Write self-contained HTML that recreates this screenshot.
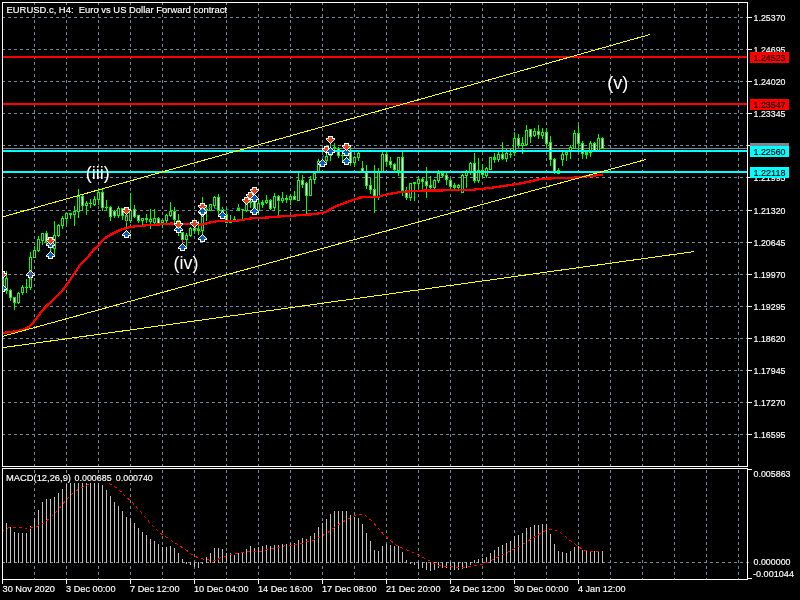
<!DOCTYPE html>
<html lang="en"><head><meta charset="utf-8"><title>EURUSD.c, H4</title>
<style>html,body{margin:0;padding:0;background:#000;overflow:hidden}svg{display:block;will-change:transform}text{font-family:"Liberation Sans",sans-serif;font-size:9.6px;fill:#fff;stroke:#fff;stroke-width:.16px}.w{font-size:18px;stroke-width:0}.k{fill:#000;stroke:#000}</style></head><body>
<svg width="800" height="600" viewBox="0 0 800 600">
<rect width="800" height="600" fill="#000"/>
<g stroke="#778899" stroke-width="1" stroke-dasharray="3 3" shape-rendering="crispEdges" fill="none">
<path d="M2 17.5H747M2 49.5H747M2 81.5H747M2 113.5H747M2 145.5H747M2 177.5H747M2 210.5H747M2 242.5H747M2 274.5H747M2 306.5H747M2 338.5H747M2 370.5H747M2 402.5H747M2 434.5H747M34.5 2V466M66.5 2V466M98.5 2V466M130.5 2V466M162.5 2V466M194.5 2V466M226.5 2V466M258.5 2V466M290.5 2V466M322.5 2V466M354.5 2V466M386.5 2V466M418.5 2V466M450.5 2V466M482.5 2V466M514.5 2V466M546.5 2V466M578.5 2V466M610.5 2V466M642.5 2V466M674.5 2V466M706.5 2V466M738.5 2V466"/>
<path d="M34.5 470V579M66.5 470V579M98.5 470V579M130.5 470V579M162.5 470V579M194.5 470V579M226.5 470V579M258.5 470V579M290.5 470V579M322.5 470V579M354.5 470V579M386.5 470V579M418.5 470V579M450.5 470V579M482.5 470V579M514.5 470V579M546.5 470V579M578.5 470V579M610.5 470V579M642.5 470V579M674.5 470V579M706.5 470V579M738.5 470V579M2 562.5H752"/>
</g>
<rect x="2" y="148" width="745" height="1" fill="#778899"/>
<g shape-rendering="crispEdges">
<path fill="#00ff00" d="M2 272h1V294h-1zM1 278h3V292h-3zM6 271h1V294h-1zM5 278h3V291h-3zM10 289h1V301h-1zM9 290h3V298h-3zM14 297h1V310h-1zM13 297h3V303h-3zM18 292h1V304h-1zM17 293h3V303h-3zM22 285h1V295h-1zM21 287h3V293h-3zM26 279h1V293h-1zM25 287h3v1h-3zM30 252h1V290h-1zM29 257h3V288h-3zM34 246h1V258h-1zM33 250h3V258h-3zM38 236h1V252h-1zM37 239h3V251h-3zM42 233h1V245h-1zM41 233h3V241h-3zM46 231h1V244h-1zM45 233h3V242h-3zM50 238h1V254h-1zM49 240h3V244h-3zM54 221h1V255h-1zM53 235h3V249h-3zM58 224h1V237h-1zM57 225h3V236h-3zM62 216h1V229h-1zM61 218h3V226h-3zM66 213h1V225h-1zM65 213h3V219h-3zM70 213h1V219h-1zM69 213h3V215h-3zM74 206h1V226h-1zM73 211h3V215h-3zM78 189h1V218h-1zM77 196h3V212h-3zM82 195h1V211h-1zM81 196h3V206h-3zM86 201h1V215h-1zM85 203h3V206h-3zM90 199h1V208h-1zM89 203h3v1h-3zM94 196h1V206h-1zM93 199h3V205h-3zM98 188h1V205h-1zM97 192h3V200h-3zM102 189h1V211h-1zM101 192h3V208h-3zM106 200h1V211h-1zM105 207h3v1h-3zM110 206h1V221h-1zM109 207h3V217h-3zM114 210h1V218h-1zM113 211h3V216h-3zM118 206h1V218h-1zM117 208h3V216h-3zM122 208h1V220h-1zM121 208h3V216h-3zM126 212h1V228h-1zM125 215h3V221h-3zM130 193h1V223h-1zM129 210h3V221h-3zM134 205h1V218h-1zM133 209h3V217h-3zM138 215h1V223h-1zM137 215h3V221h-3zM142 218h1V225h-1zM141 218h3V221h-3zM146 214h1V223h-1zM145 218h3V220h-3zM150 209h1V229h-1zM149 219h3V222h-3zM154 209h1V225h-1zM153 218h3V223h-3zM158 217h1V225h-1zM157 218h3V224h-3zM162 220h1V228h-1zM161 220h3V223h-3zM166 214h1V223h-1zM165 215h3V221h-3zM170 202h1V217h-1zM169 211h3V216h-3zM174 207h1V223h-1zM173 211h3V220h-3zM178 214h1V236h-1zM177 220h3V232h-3zM182 232h1V245h-1zM181 232h3V240h-3zM186 233h1V248h-1zM185 235h3V240h-3zM190 227h1V237h-1zM189 228h3V236h-3zM194 226h1V234h-1zM193 228h3V231h-3zM198 221h1V235h-1zM197 229h3V231h-3zM202 197h1V235h-1zM201 216h3V231h-3zM206 207h1V221h-1zM205 209h3v1h-3zM210 204h1V211h-1zM209 204h3V211h-3zM214 196h1V208h-1zM213 197h3V206h-3zM218 194h1V215h-1zM217 197h3V211h-3zM222 207h1V215h-1zM221 209h3V213h-3zM226 208h1V223h-1zM225 214h3V223h-3zM230 215h1V223h-1zM229 220h3V223h-3zM234 216h1V221h-1zM233 219h3V221h-3zM238 204h1V211h-1zM237 208h3V211h-3zM242 209h1V219h-1zM241 209h3v1h-3zM246 201h1V212h-1zM245 204h3V211h-3zM250 200h1V208h-1zM249 201h3V203h-3zM254 200h1V209h-1zM253 201h3V209h-3zM258 200h1V215h-1zM257 203h3V211h-3zM262 200h1V208h-1zM261 202h3V205h-3zM266 195h1V204h-1zM265 200h3V203h-3zM270 199h1V210h-1zM269 200h3V209h-3zM274 193h1V211h-1zM273 196h3V208h-3zM278 195h1V216h-1zM277 196h3V201h-3zM282 192h1V203h-1zM281 198h3V201h-3zM286 195h1V203h-1zM285 198h3V200h-3zM290 194h1V205h-1zM289 196h3V200h-3zM294 191h1V200h-1zM293 196h3V200h-3zM298 173h1V201h-1zM297 180h3V201h-3zM302 175h1V188h-1zM301 180h3V185h-3zM306 182h1V215h-1zM305 183h3V196h-3zM310 176h1V196h-1zM309 179h3V196h-3zM314 173h1V184h-1zM313 173h3V180h-3zM318 159h1V172h-1zM317 161h3V172h-3zM322 159h1V167h-1zM321 160h3V166h-3zM326 154h1V163h-1zM325 156h3V161h-3zM330 144h1V161h-1zM329 154h3V156h-3zM334 143h1V151h-1zM333 147h3v1h-3zM338 147h1V158h-1zM337 148h3V156h-3zM342 154h1V161h-1zM341 155h3v1h-3zM346 150h1V156h-1zM345 152h3V156h-3zM350 147h1V166h-1zM349 151h3V163h-3zM354 156h1V167h-1zM353 157h3V163h-3zM358 152h1V161h-1zM357 153h3V158h-3zM362 161h1V173h-1zM361 168h3V172h-3zM366 165h1V189h-1zM365 172h3V186h-3zM370 178h1V194h-1zM369 185h3V190h-3zM374 165h1V213h-1zM373 189h3V196h-3zM378 168h1V200h-1zM377 172h3V197h-3zM382 152h1V172h-1zM381 154h3V172h-3zM386 152h1V167h-1zM385 154h3V162h-3zM390 157h1V168h-1zM389 161h3V165h-3zM394 163h1V171h-1zM393 164h3V170h-3zM398 157h1V176h-1zM397 157h3V171h-3zM402 152h1V196h-1zM401 157h3V191h-3zM406 187h1V200h-1zM405 190h3V198h-3zM410 183h1V201h-1zM409 183h3V198h-3zM414 182h1V201h-1zM413 182h3V184h-3zM418 177h1V189h-1zM417 179h3V184h-3zM422 177h1V191h-1zM421 179h3V182h-3zM426 167h1V198h-1zM425 181h3V186h-3zM430 176h1V191h-1zM429 185h3V188h-3zM434 179h1V191h-1zM433 180h3V188h-3zM438 170h1V183h-1zM437 173h3V181h-3zM442 172h1V178h-1zM441 173h3V176h-3zM446 173h1V185h-1zM445 175h3V180h-3zM450 178h1V190h-1zM449 180h3V187h-3zM454 183h1V190h-1zM453 185h3V188h-3zM458 184h1V189h-1zM457 185h3V188h-3zM462 174h1V193h-1zM461 175h3V193h-3zM466 170h1V188h-1zM465 172h3V176h-3zM470 162h1V175h-1zM469 163h3V173h-3zM474 153h1V183h-1zM473 163h3V181h-3zM478 158h1V183h-1zM477 170h3V181h-3zM482 164h1V178h-1zM481 170h3V175h-3zM486 167h1V178h-1zM485 168h3V176h-3zM490 157h1V170h-1zM489 157h3V170h-3zM494 153h1V163h-1zM493 157h3V160h-3zM498 152h1V162h-1zM497 154h3V160h-3zM502 142h1V160h-1zM501 154h3V159h-3zM506 149h1V162h-1zM505 153h3V159h-3zM510 149h1V158h-1zM509 154h3v1h-3zM514 132h1V156h-1zM513 138h3V153h-3zM518 134h1V148h-1zM517 138h3V146h-3zM522 137h1V154h-1zM521 143h3V146h-3zM526 125h1V146h-1zM525 130h3V145h-3zM530 129h1V143h-1zM529 129h3V137h-3zM534 128h1V137h-1zM533 131h3V136h-3zM538 125h1V139h-1zM537 131h3V135h-3zM542 128h1V139h-1zM541 132h3V136h-3zM546 128h1V148h-1zM545 132h3V144h-3zM550 136h1V166h-1zM549 142h3V160h-3zM554 158h1V174h-1zM553 159h3V172h-3zM558 168h1V174h-1zM557 170h3V174h-3zM562 152h1V166h-1zM561 154h3V160h-3zM566 152h1V161h-1zM565 152h3V155h-3zM570 145h1V159h-1zM569 147h3V151h-3zM574 130h1V149h-1zM573 133h3V149h-3zM578 125h1V151h-1zM577 133h3V144h-3zM582 141h1V159h-1zM581 143h3V154h-3zM586 152h1V159h-1zM585 152h3V155h-3zM590 141h1V157h-1zM589 143h3V153h-3zM594 142h1V151h-1zM593 143h3V151h-3zM598 134h1V151h-1zM597 138h3V151h-3zM602 137h1V149h-1zM601 138h3V149h-3z"/>
<path fill="#000" d="M2 279h1V291h-1zM6 279h1V290h-1zM18 294h1V302h-1zM22 288h1V292h-1zM30 258h1V287h-1zM34 251h1V257h-1zM38 240h1V250h-1zM42 234h1V240h-1zM54 236h1V248h-1zM58 226h1V235h-1zM62 219h1V225h-1zM66 214h1V218h-1zM74 212h1V214h-1zM78 197h1V211h-1zM86 204h1V205h-1zM94 200h1V204h-1zM98 193h1V199h-1zM118 209h1V215h-1zM126 216h1V220h-1zM130 211h1V220h-1zM142 219h1V220h-1zM150 220h1V221h-1zM154 219h1V222h-1zM162 221h1V222h-1zM166 216h1V220h-1zM170 212h1V215h-1zM186 236h1V239h-1zM190 229h1V235h-1zM202 217h1V230h-1zM210 205h1V210h-1zM214 198h1V205h-1zM246 205h1V210h-1zM258 204h1V210h-1zM266 201h1V202h-1zM274 197h1V207h-1zM282 199h1V200h-1zM290 197h1V199h-1zM298 181h1V200h-1zM310 180h1V195h-1zM314 174h1V179h-1zM318 162h1V171h-1zM322 161h1V165h-1zM326 157h1V160h-1zM346 153h1V155h-1zM354 158h1V162h-1zM358 154h1V157h-1zM378 173h1V196h-1zM382 155h1V171h-1zM398 158h1V170h-1zM410 184h1V197h-1zM418 180h1V183h-1zM434 181h1V187h-1zM438 174h1V180h-1zM458 186h1V187h-1zM462 176h1V192h-1zM466 173h1V175h-1zM470 164h1V172h-1zM478 171h1V180h-1zM486 169h1V175h-1zM490 158h1V169h-1zM498 155h1V159h-1zM506 154h1V158h-1zM514 139h1V152h-1zM522 144h1V145h-1zM526 131h1V144h-1zM534 132h1V135h-1zM542 133h1V135h-1zM558 171h1V173h-1zM562 155h1V159h-1zM566 153h1V154h-1zM570 148h1V150h-1zM574 134h1V148h-1zM590 144h1V152h-1zM598 139h1V150h-1z"/>
<path fill="#fff" d="M10 291h1V297h-1zM14 298h1V302h-1zM46 234h1V241h-1zM50 241h1V243h-1zM82 197h1V205h-1zM102 193h1V207h-1zM110 208h1V216h-1zM114 212h1V215h-1zM122 209h1V215h-1zM134 210h1V216h-1zM138 216h1V220h-1zM158 219h1V223h-1zM174 212h1V219h-1zM178 221h1V231h-1zM182 233h1V239h-1zM194 229h1V230h-1zM218 198h1V210h-1zM222 210h1V212h-1zM226 215h1V222h-1zM254 202h1V208h-1zM270 201h1V208h-1zM278 197h1V200h-1zM294 197h1V199h-1zM302 181h1V184h-1zM306 184h1V195h-1zM338 149h1V155h-1zM350 152h1V162h-1zM362 169h1V171h-1zM366 173h1V185h-1zM370 186h1V189h-1zM374 190h1V195h-1zM386 155h1V161h-1zM390 162h1V164h-1zM394 165h1V169h-1zM402 158h1V190h-1zM406 191h1V197h-1zM422 180h1V181h-1zM426 182h1V185h-1zM430 186h1V187h-1zM442 174h1V175h-1zM446 176h1V179h-1zM450 181h1V186h-1zM474 164h1V180h-1zM482 171h1V174h-1zM502 155h1V158h-1zM518 139h1V145h-1zM530 130h1V136h-1zM538 132h1V134h-1zM546 133h1V143h-1zM550 143h1V159h-1zM554 160h1V171h-1zM578 134h1V143h-1zM582 144h1V153h-1zM594 144h1V150h-1zM602 139h1V148h-1z"/>
</g>
<polyline points="2,333 10,332 18,331 24,329.5 28,327.5 32,324 36,319 40,313.5 44,308.5 48,304.5 52,301 56,297 60,293 64,288.5 68,283 72,277 76,271 80,265 84,261 88,257 93,250.5 98.75,245 102.5,240.5 106,237.5 110,235 115,232.5 120,230 125,228.5 130,227 136,226.2 142,225.7 150,225 158,224.5 166,224 172,223.5 177,224 182,224 190,224 202,224.5 210,222.5 218,221 226,221 234,221 242,220 250,218.5 258,218 268,217.5 278,216.5 290,216 300,215 310,214.5 318,213.5 326,212 330,209.5 334,207 342,204 350,201 356,199 360,197.5 368,197 378,197 384,195 392,193.5 400,192 408,191.5 416,191 424,190.5 440,190.5 455,190 470,190 480,189 490,188 500,186.5 510,185 520,183.5 530,181.5 540,179 550,178.5 560,178 570,178 580,177 590,176 600,175 603,174.5" fill="none" stroke="#ff0000" stroke-width="2.25" stroke-linejoin="round" shape-rendering="crispEdges"/>
<g shape-rendering="crispEdges">
<rect x="3" y="56" width="744" height="2" fill="#ff0000"/>
<rect x="3" y="103" width="744" height="2" fill="#ff0000"/>
<rect x="3" y="150" width="744" height="2" fill="#00ffff"/>
<rect x="3" y="171" width="744" height="2" fill="#00ffff"/>
</g>
<g stroke="#ffff00" stroke-width="1" shape-rendering="crispEdges" fill="none">
<path d="M3 216.8L650 34.5M3 336.2L646 159.5M3 347.6L694 251.6"/>
</g>
<g fill="none" stroke-width="1" stroke-dasharray="3 3" shape-rendering="crispEdges">
<path stroke="#0a5cb8" d="M208 207L225 210.5L243 206.5M322 158L327 151M346.5 155V159"/>
<path stroke="#e6401a" d="M195 227L201 232M126.5 214V229M182.5 240V244"/>
</g>
<defs>
<g id="ad" shape-rendering="crispEdges"><path fill="#fff" d="M-2 0h5v1h-5zM-2 1h5v1h-5zM-4 2h9v1h-9zM-4 3h9v1h-9zM-3 4h7v1h-7zM-2 5h5v1h-5zM-1 6h3v1h-3zM0 7h1v1h-1z"/><path fill="#e6401a" d="M-1 1h3v1h-3zM-1 2h3v1h-3zM-3 3h7v1h-7zM-2 4h5v1h-5zM-1 5h3v1h-3zM0 6h1v1h-1z"/></g>
<g id="au" shape-rendering="crispEdges"><path fill="#fff" d="M-2 7h5v1h-5zM-2 6h5v1h-5zM-4 5h9v1h-9zM-4 4h9v1h-9zM-3 3h7v1h-7zM-2 2h5v1h-5zM-1 1h3v1h-3zM0 0h1v1h-1z"/><path fill="#0a5cb8" d="M-1 6h3v1h-3zM-1 5h3v1h-3zM-3 4h7v1h-7zM-2 3h5v1h-5zM-1 2h3v1h-3zM0 1h1v1h-1z"/></g>
</defs>
<use href="#ad" x="2" y="271"/>
<use href="#au" x="2" y="284"/>
<use href="#au" x="30" y="270"/>
<use href="#au" x="50" y="240"/>
<use href="#ad" x="50" y="237"/>
<use href="#au" x="50" y="251"/>
<use href="#ad" x="126" y="207"/>
<use href="#au" x="126" y="230"/>
<use href="#au" x="178" y="225"/>
<use href="#ad" x="178" y="221"/>
<use href="#au" x="182" y="243"/>
<use href="#ad" x="194" y="220"/>
<use href="#ad" x="202" y="203"/>
<use href="#ad" x="202" y="209"/>
<use href="#au" x="202" y="207"/>
<use href="#au" x="202" y="234"/>
<use href="#au" x="222" y="211"/>
<use href="#ad" x="246" y="197"/>
<use href="#ad" x="250" y="192"/>
<use href="#ad" x="254" y="187"/>
<use href="#au" x="254" y="194"/>
<use href="#au" x="254" y="207"/>
<use href="#au" x="322" y="159"/>
<use href="#ad" x="326" y="146"/>
<use href="#ad" x="330" y="136"/>
<use href="#au" x="330" y="147"/>
<use href="#au" x="346" y="148"/>
<use href="#ad" x="346" y="143"/>
<use href="#au" x="346" y="157"/>
<path fill="#e6401a" shape-rendering="crispEdges" d="M30 271h1v4h-1zM30 277h1v3h-1z"/>
<rect x="0" y="3" width="2" height="460" fill="#000"/><rect x="2" y="3" width="1" height="463" fill="#fff" shape-rendering="crispEdges"/>
<text class="w" x="85.7" y="179">(iii)</text>
<text class="w" x="173.4" y="269">(iv)</text>
<text class="w" x="607.2" y="89">(v)</text>
<g shape-rendering="crispEdges">
<path fill="#c0c0c0" d="M6 523h1V563h-1zM10 527h1V563h-1zM14 532h1V563h-1zM18 533h1V563h-1zM22 533h1V563h-1zM26 533h1V563h-1zM30 526h1V563h-1zM34 518h1V563h-1zM38 510h1V563h-1zM42 502h1V563h-1zM46 499h1V563h-1zM50 499h1V563h-1zM54 497h1V563h-1zM58 493h1V563h-1zM62 489h1V563h-1zM66 484h1V563h-1zM70 483h1V563h-1zM74 483h1V563h-1zM78 483h1V563h-1zM82 483h1V563h-1zM86 483h1V563h-1zM90 483h1V563h-1zM94 483h1V563h-1zM98 483h1V563h-1zM102 485h1V563h-1zM106 490h1V563h-1zM110 496h1V563h-1zM114 502h1V563h-1zM118 506h1V563h-1zM122 511h1V563h-1zM126 517h1V563h-1zM130 518h1V563h-1zM134 523h1V563h-1zM138 528h1V563h-1zM142 532h1V563h-1zM146 535h1V563h-1zM150 539h1V563h-1zM154 541h1V563h-1zM158 544h1V563h-1zM162 547h1V563h-1zM166 547h1V563h-1zM170 546h1V563h-1zM174 548h1V563h-1zM178 553h1V563h-1zM182 559h1V563h-1zM186 562h1V564h-1zM190 562h1V565h-1zM194 562h1V567h-1zM198 562h1V568h-1zM202 562h1V564h-1zM206 557h1V563h-1zM210 553h1V563h-1zM214 548h1V563h-1zM218 548h1V563h-1zM222 549h1V563h-1zM226 553h1V563h-1zM230 553h1V563h-1zM234 555h1V563h-1zM238 553h1V563h-1zM242 552h1V563h-1zM246 549h1V563h-1zM250 546h1V563h-1zM254 548h1V563h-1zM258 547h1V563h-1zM262 546h1V563h-1zM266 545h1V563h-1zM270 546h1V563h-1zM274 545h1V563h-1zM278 545h1V563h-1zM282 544h1V563h-1zM286 544h1V563h-1zM290 543h1V563h-1zM294 543h1V563h-1zM298 540h1V563h-1zM302 538h1V563h-1zM306 539h1V563h-1zM310 536h1V563h-1zM314 533h1V563h-1zM318 527h1V563h-1zM322 523h1V563h-1zM326 519h1V563h-1zM330 514h1V563h-1zM334 511h1V563h-1zM338 511h1V563h-1zM342 511h1V563h-1zM346 511h1V563h-1zM350 515h1V563h-1zM354 517h1V563h-1zM358 518h1V563h-1zM362 524h1V563h-1zM366 533h1V563h-1zM370 541h1V563h-1zM374 550h1V563h-1zM378 551h1V563h-1zM382 546h1V563h-1zM386 544h1V563h-1zM390 545h1V563h-1zM394 546h1V563h-1zM398 546h1V563h-1zM402 552h1V563h-1zM406 560h1V563h-1zM410 562h1V564h-1zM414 562h1V565h-1zM418 562h1V569h-1zM422 562h1V568h-1zM426 562h1V570h-1zM430 562h1V571h-1zM434 562h1V570h-1zM438 562h1V568h-1zM442 562h1V568h-1zM446 562h1V568h-1zM450 562h1V570h-1zM454 562h1V570h-1zM458 562h1V570h-1zM462 562h1V569h-1zM466 562h1V568h-1zM470 562h1V565h-1zM474 560h1V563h-1zM478 559h1V563h-1zM482 558h1V563h-1zM486 557h1V563h-1zM490 553h1V563h-1zM494 550h1V563h-1zM498 547h1V563h-1zM502 545h1V563h-1zM506 543h1V563h-1zM510 541h1V563h-1zM514 536h1V563h-1zM518 535h1V563h-1zM522 533h1V563h-1zM526 528h1V563h-1zM530 527h1V563h-1zM534 525h1V563h-1zM538 525h1V563h-1zM542 524h1V563h-1zM546 524h1V563h-1zM550 534h1V563h-1zM554 544h1V563h-1zM558 551h1V563h-1zM562 552h1V563h-1zM566 553h1V563h-1zM570 551h1V563h-1zM574 547h1V563h-1zM578 546h1V563h-1zM582 550h1V563h-1zM586 551h1V563h-1zM590 552h1V563h-1zM594 551h1V563h-1zM598 551h1V563h-1zM602 551h1V563h-1z"/>
</g>
<polyline points="2,532 5,529 9.5,527.5 23,527.5 27.5,528.5 33.5,527.5 40,525.5 45.5,522 51.5,516.5 57.5,510.5 62,505 67,499 73,493 79,489 85,486 91,483.3" fill="none" stroke="#ff0000" stroke-width="1" stroke-dasharray="3 3" shape-rendering="crispEdges"/>
<polyline points="109,483.3 115,487 121,491.5 127,498 130,500 140,511 150,523 160,533 170,539.5 180,546 186,550 194,556 200,558.5 206,559.5 212,560.5 216,560.5 222,557 230,555 238,553 246,552 254,551.5 262,551 270,549 278,547.5 284,546 290,545.5 298,544.5 306,542 314,540 322,536 330,531 338,525 346,520 354,516 360,514.5 366,516 372,521 378,528 384,535 390,540 396,545 402,548 410,551 418,555 424,558 430,561 438,565.5 444,566 450,566.5 458,567.5 466,567 474,565.5 482,564.5 488,562 496,558 504,554 512,550 520,546 528,541 536,536 544,531.5 549,529 554,529.5 560,532.5 566,537 572,542 578,546.5 584,550 590,551.5 598,551 602,551" fill="none" stroke="#ff0000" stroke-width="1" stroke-dasharray="3 3" shape-rendering="crispEdges"/>
<g fill="#fff" shape-rendering="crispEdges">
<rect x="2" y="2" width="746" height="1"/>
<rect x="2" y="2" width="1" height="578"/>
<rect x="747" y="2" width="1" height="578"/>
<rect x="2" y="466" width="746" height="1"/>
<rect x="2" y="468" width="746" height="1"/>
<rect x="2" y="579" width="746" height="1"/>
<rect x="748" y="578" width="4" height="1"/>
<rect x="2" y="467" width="1" height="1" fill="#000"/>
<rect x="747" y="467" width="1" height="1" fill="#000"/>
<rect x="748" y="17" width="4" height="1"/>
<rect x="748" y="49" width="4" height="1"/>
<rect x="748" y="81" width="4" height="1"/>
<rect x="748" y="113" width="4" height="1"/>
<rect x="748" y="145" width="4" height="1"/>
<rect x="748" y="177" width="4" height="1"/>
<rect x="748" y="210" width="4" height="1"/>
<rect x="748" y="242" width="4" height="1"/>
<rect x="748" y="274" width="4" height="1"/>
<rect x="748" y="306" width="4" height="1"/>
<rect x="748" y="338" width="4" height="1"/>
<rect x="748" y="370" width="4" height="1"/>
<rect x="748" y="402" width="4" height="1"/>
<rect x="748" y="434" width="4" height="1"/>
<rect x="748" y="469" width="4" height="1"/>
<rect x="2" y="580" width="1" height="4"/>
<rect x="66" y="580" width="1" height="4"/>
<rect x="130" y="580" width="1" height="4"/>
<rect x="194" y="580" width="1" height="4"/>
<rect x="258" y="580" width="1" height="4"/>
<rect x="322" y="580" width="1" height="4"/>
<rect x="386" y="580" width="1" height="4"/>
<rect x="450" y="580" width="1" height="4"/>
<rect x="514" y="580" width="1" height="4"/>
<rect x="578" y="580" width="1" height="4"/>
</g>
<text x="753.5" y="21" textLength="32" lengthAdjust="spacingAndGlyphs">1.25370</text>
<text x="753.5" y="53" textLength="32" lengthAdjust="spacingAndGlyphs">1.24695</text>
<text x="753.5" y="85" textLength="32" lengthAdjust="spacingAndGlyphs">1.24020</text>
<text x="753.5" y="117" textLength="32" lengthAdjust="spacingAndGlyphs">1.23345</text>
<text x="753.5" y="149" textLength="32" lengthAdjust="spacingAndGlyphs">1.22670</text>
<text x="753.5" y="181" textLength="32" lengthAdjust="spacingAndGlyphs">1.21995</text>
<text x="753.5" y="214" textLength="32" lengthAdjust="spacingAndGlyphs">1.21320</text>
<text x="753.5" y="246" textLength="32" lengthAdjust="spacingAndGlyphs">1.20645</text>
<text x="753.5" y="278" textLength="32" lengthAdjust="spacingAndGlyphs">1.19970</text>
<text x="753.5" y="310" textLength="32" lengthAdjust="spacingAndGlyphs">1.19295</text>
<text x="753.5" y="342" textLength="32" lengthAdjust="spacingAndGlyphs">1.18620</text>
<text x="753.5" y="374" textLength="32" lengthAdjust="spacingAndGlyphs">1.17945</text>
<text x="753.5" y="406" textLength="32" lengthAdjust="spacingAndGlyphs">1.17270</text>
<text x="753.5" y="438" textLength="32" lengthAdjust="spacingAndGlyphs">1.16595</text>
<text x="753.5" y="477" textLength="37" lengthAdjust="spacingAndGlyphs">0.005863</text>
<text x="753.5" y="565" textLength="37" lengthAdjust="spacingAndGlyphs">0.000000</text>
<text x="753" y="577" textLength="41" lengthAdjust="spacingAndGlyphs">-0.001044</text>
<rect x="750" y="143" width="39" height="11" fill="#778899" shape-rendering="crispEdges"/>
<text class="" x="753.5" y="152" textLength="32" lengthAdjust="spacingAndGlyphs">1.22604</text>
<rect x="750" y="52" width="39" height="11" fill="#ff0000" shape-rendering="crispEdges"/>
<text class="k" x="753.5" y="61" textLength="32" lengthAdjust="spacingAndGlyphs">1.24523</text>
<rect x="750" y="99" width="39" height="11" fill="#ff0000" shape-rendering="crispEdges"/>
<text class="k" x="753.5" y="108" textLength="32" lengthAdjust="spacingAndGlyphs">1.23547</text>
<rect x="750" y="146" width="39" height="11" fill="#00ffff" shape-rendering="crispEdges"/>
<text class="k" x="753.5" y="155" textLength="32" lengthAdjust="spacingAndGlyphs">1.22560</text>
<rect x="750" y="167" width="39" height="11" fill="#00ffff" shape-rendering="crispEdges"/>
<text class="k" x="753.5" y="176" textLength="32" lengthAdjust="spacingAndGlyphs">1.22118</text>
<rect x="5" y="5" width="70" height="9" fill="#000"/>
<text x="6.5" y="13" textLength="220.5" lengthAdjust="spacingAndGlyphs" xml:space="preserve">EURUSD.c, H4:  Euro vs US Dollar Forward contract</text>
<rect x="5" y="474" width="150" height="9" fill="#000"/>
<text x="6" y="481" textLength="65" lengthAdjust="spacingAndGlyphs">MACD(12,26,9)</text>
<text x="74.6" y="481" textLength="37" lengthAdjust="spacingAndGlyphs">0.000685</text>
<text x="115.8" y="481" textLength="37" lengthAdjust="spacingAndGlyphs">0.000740</text>
<text x="2.5" y="592" textLength="52.5" lengthAdjust="spacingAndGlyphs">30 Nov 2020</text>
<text x="66" y="592" textLength="49.5" lengthAdjust="spacingAndGlyphs">3 Dec 00:00</text>
<text x="130" y="592" textLength="49.5" lengthAdjust="spacingAndGlyphs">7 Dec 12:00</text>
<text x="194" y="592" textLength="54.5" lengthAdjust="spacingAndGlyphs">10 Dec 04:00</text>
<text x="258" y="592" textLength="54.5" lengthAdjust="spacingAndGlyphs">14 Dec 16:00</text>
<text x="322" y="592" textLength="54.5" lengthAdjust="spacingAndGlyphs">17 Dec 08:00</text>
<text x="386" y="592" textLength="54.5" lengthAdjust="spacingAndGlyphs">21 Dec 20:00</text>
<text x="450" y="592" textLength="54.5" lengthAdjust="spacingAndGlyphs">24 Dec 12:00</text>
<text x="514" y="592" textLength="54.5" lengthAdjust="spacingAndGlyphs">30 Dec 00:00</text>
<text x="578" y="592" textLength="47.5" lengthAdjust="spacingAndGlyphs">4 Jan 12:00</text>
</svg></body></html>
